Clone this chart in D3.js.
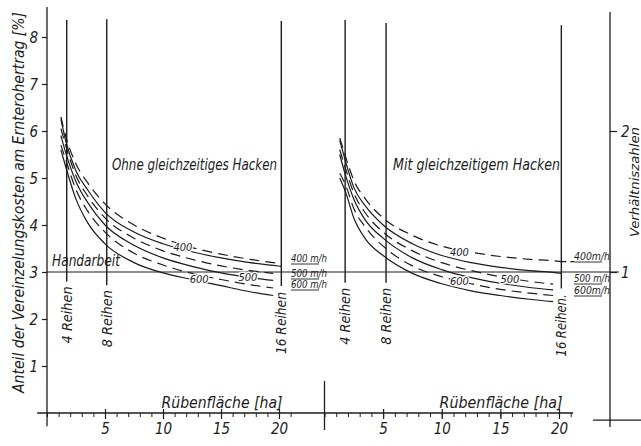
<!DOCTYPE html>
<html>
<head>
<meta charset="utf-8">
<script src="https://cdn.jsdelivr.net/npm/d3@7"></script>
<style>
  body { margin: 0; background: #fff; }
  svg text {
    font-family: "Liberation Sans Narrow", "DejaVu Sans Condensed", "DejaVu Sans", sans-serif;
    font-style: italic;
    fill: #1c1c1c;
  }
</style>
</head>
<body>
<div id="chart"></div>
<script>
/// Data

// x positions (ha) where the curves were read
const haLeft = [1.2, 1.6, 2.5, 3.5, 5, 7.5, 10, 12.5, 15, 17.5, 19.5, 20.2];
const haRight = [1.3, 1.8, 2.5, 3.5, 5, 7.5, 10, 12.5, 15, 17.5, 19.5, 20.2];

// Ohne gleichzeitiges Hacken  (d = dashed, s = solid)
const left400d = [6.3, 5.9, 5.3, 4.9, 4.45, 4.0, 3.72, 3.52, 3.38, 3.27, 3.2, 3.18];
const left400s = [6.25, 5.8, 5.15, 4.75, 4.27, 3.85, 3.6, 3.43, 3.3, 3.2, 3.14, 3.12];
const left500d = [6.05, 5.7, 5.05, 4.62, 4.15, 3.72, 3.45, 3.27, 3.13, 3.03, 2.97, null];
const left500s = [5.9, 5.55, 4.92, 4.48, 4.0, 3.57, 3.3, 3.12, 2.98, 2.88, 2.82, null];
const left600d = [5.7, 5.4, 4.75, 4.3, 3.85, 3.4, 3.15, 2.97, 2.84, 2.73, 2.66, null];
const left600s = [5.6, 5.25, 4.55, 4.05, 3.6, 3.2, 2.98, 2.84, 2.71, 2.58, 2.5, null];

// Mit gleichzeitigem Hacken
const right400d = [5.85, 5.45, 4.95, 4.55, 4.15, 3.78, 3.55, 3.42, 3.33, 3.27, 3.24, 3.22];
const right400s = [5.8, 5.35, 4.8, 4.4, 4.0, 3.6, 3.35, 3.2, 3.1, 3.03, 2.99, 2.97];
const right500d = [5.6, 5.2, 4.68, 4.25, 3.85, 3.45, 3.2, 3.03, 2.9, 2.8, 2.74, null];
const right500s = [5.5, 5.05, 4.55, 4.1, 3.72, 3.3, 3.05, 2.88, 2.76, 2.67, 2.62, null];
const right600d = [5.1, 4.85, 4.35, 3.95, 3.55, 3.13, 2.9, 2.75, 2.63, 2.55, 2.5, null];
const right600s = [5.0, 4.7, 4.15, 3.7, 3.35, 2.97, 2.75, 2.6, 2.5, 2.42, 2.37, null];

const handarbeit = 3; // %

// row-count lines (ha)
const reihenLeft = [1.7, 5.15, 20.2];
const reihenRight = [1.76, 5.25, 20.2];
const reihenNames = ["4 Reihen", "8 Reihen", "16 Reihen"];
const reihenNamesRight = ["4 Reihen", "8 Reihen", "16 Reihen."];

// inline speed labels [ha, %]
const speedLabels = ["400", "600", "500"];
const speedPosLeft = [[10.9, 3.45], [12.3, 2.77], [16.5, 2.81]];
const speedPosRight = [[10.7, 3.34], [10.7, 2.72], [15.0, 2.77]];
const endLabels = ["400 m/h", "500 m/h", "600 m/h"];
const endLabelsRight = ["400m/h", "500 m/h", "600m/h"];

const yTicks = [1, 2, 3, 4, 5, 6, 7, 8];
const yRightTicks = [1, 2];
const xMajor = [5, 10, 15, 20];
const xMinor = d3.range(0, 22);

/// Geometry
const width = 641, height = 446;
const ink = "#1c1c1c";

const y = d3.scaleLinear().domain([0, 8]).range([413, 37]);
const yR = d3.scaleLinear().domain([0, 8 / 3]).range([413, 37]);
const xL = d3.scaleLinear().domain([0, 20]).range([47, 279]);
const xR = d3.scaleLinear().domain([0, 20]).range([324.5, 559]);

const svg = d3.select("#chart").append("svg")
  .attr("width", width)
  .attr("height", height);

// axis baseline, runs under both panels
svg.append("line")
  .attr("x1", xL(-0.85)).attr("x2", xR(21.2))
  .attr("y1", y(0)).attr("y2", y(0))
  .attr("stroke", ink).attr("stroke-width", 1.3);

// left y axis
svg.append("line")
  .attr("x1", xL(0)).attr("x2", xL(0))
  .attr("y1", y(8.64)).attr("y2", y(-0.28))
  .attr("stroke", ink).attr("stroke-width", 1.3);

const yAxis = svg.append("g")
  .attr("transform", "translate(" + xL(0) + ",0)")
  .call(d3.axisLeft(y).tickValues(yTicks).tickSize(5).tickFormat(d3.format("d")));
yAxis.select(".domain").remove();
yAxis.selectAll("line").attr("stroke", ink).attr("stroke-width", 1.2);
yAxis.selectAll("text")
  .attr("font-size", 15).attr("x", -9).attr("dy", "0.36em");

// small separator at the origin of the right panel
svg.append("line")
  .attr("x1", xR(0)).attr("x2", xR(0))
  .attr("y1", y(0.68)).attr("y2", y(-0.36))
  .attr("stroke", ink).attr("stroke-width", 1.3);

function xTicks(x) {
  const minor = svg.append("g")
    .attr("transform", "translate(0," + y(0) + ")")
    .call(d3.axisBottom(x).tickValues(xMinor).tickSize(4).tickFormat(""));
  minor.select(".domain").remove();
  minor.selectAll("line").attr("stroke", ink).attr("stroke-width", 1);

  const major = svg.append("g")
    .attr("transform", "translate(0," + y(0) + ")")
    .call(d3.axisBottom(x).tickValues(xMajor).tickSize(6).tickFormat(d3.format("d")));
  major.select(".domain").remove();
  major.selectAll("line").attr("y1", -4).attr("stroke", ink).attr("stroke-width", 1.2);
  major.selectAll("text").attr("font-size", 15).attr("y", 10).attr("dy", "0.75em");
}
xTicks(xL);
xTicks(xR);

// right axis (Verhältniszahlen)
svg.append("line")
  .attr("x1", 610).attr("x2", 610)
  .attr("y1", y(8.53)).attr("y2", y(-0.3))
  .attr("stroke", ink).attr("stroke-width", 1.3);
svg.append("line")
  .attr("x1", 593).attr("x2", width)
  .attr("y1", y(-0.15)).attr("y2", y(-0.15))
  .attr("stroke", ink).attr("stroke-width", 1.3);
const rAxis = svg.append("g")
  .attr("transform", "translate(610,0)")
  .call(d3.axisRight(yR).tickValues(yRightTicks).tickSize(7).tickFormat(d3.format("d")));
rAxis.select(".domain").remove();
rAxis.selectAll("line").attr("stroke", ink).attr("stroke-width", 1.2);
rAxis.selectAll("text").attr("font-size", 15).attr("x", 11).attr("dy", "0.36em");

// Handarbeit line
svg.append("line")
  .attr("x1", xL(0)).attr("x2", 619)
  .attr("y1", y(handarbeit)).attr("y2", y(handarbeit))
  .attr("stroke", ink).attr("stroke-width", 1.2);
svg.append("text")
  .attr("x", 52).attr("y", y(handarbeit) - 6)
  .attr("font-size", 15)
  .attr("textLength", 68).attr("lengthAdjust", "spacingAndGlyphs")
  .text("Handarbeit");

function panel(x, ha, series, reihen, names, reihenBottom, reihenTop, labelPos, ends, endX, endY, title, titleX, titleW, axisW) {
  // row lines
  reihen.forEach(function (r, i) {
    svg.append("line")
      .attr("x1", x(r)).attr("x2", x(r))
      .attr("y1", y(reihenTop[i])).attr("y2", y(reihenBottom[i]))
      .attr("stroke", ink).attr("stroke-width", 1.4);
    svg.append("text")
      .attr("transform", "translate(" + (x(r) + 5) + "," + (y(reihenBottom[i]) + 62 + (i == 2 ? 6 : 0)) + ") rotate(-90)")
      .attr("font-size", 14)
      .attr("textLength", i == 2 ? 62 : 57).attr("lengthAdjust", "spacingAndGlyphs")
      .text(names[i]);
  });

  const line = d3.line()
    .defined(function (d) { return d[1] != null; })
    .x(function (d) { return x(d[0]); })
    .y(function (d) { return y(d[1]); })
    .curve(d3.curveMonotoneX);

  series.forEach(function (s) {
    svg.append("path")
      .datum(ha.map(function (h, i) { return [h, s.v[i]]; }))
      .attr("fill", "none")
      .attr("stroke", ink)
      .attr("stroke-width", 1.2)
      .attr("stroke-dasharray", s.dash ? "10,6" : null)
      .attr("d", line);
  });

  speedLabels.forEach(function (t, i) {
    svg.append("text")
      .attr("x", x(labelPos[i][0])).attr("y", y(labelPos[i][1]))
      .attr("font-size", 11)
      .attr("stroke", "#fff").attr("stroke-width", 2.5).attr("paint-order", "stroke")
      .text(t);
  });

  ends.forEach(function (t, i) {
    svg.append("text")
      .attr("x", endX).attr("y", endY[i])
      .attr("font-size", 10)
      .attr("textLength", 36).attr("lengthAdjust", "spacingAndGlyphs")
      .text(t);
    svg.append("line")
      .attr("x1", endX).attr("x2", endX + 28)
      .attr("y1", endY[i] + 2).attr("y2", endY[i] + 2)
      .attr("stroke", ink).attr("stroke-width", 0.9);
  });

  svg.append("text")
    .attr("x", titleX).attr("y", 170)
    .attr("font-size", 15)
    .attr("textLength", titleW).attr("lengthAdjust", "spacingAndGlyphs")
    .text(title);

  svg.append("text")
    .attr("x", x(20.3)).attr("y", y(0) - 5)
    .attr("text-anchor", "end")
    .attr("font-size", 15)
    .attr("textLength", axisW).attr("lengthAdjust", "spacingAndGlyphs")
    .text("Rübenfläche [ha]");
}

panel(xL, haLeft,
  [{ v: left400d, dash: true }, { v: left400s }, { v: left500d, dash: true },
   { v: left500s }, { v: left600d, dash: true }, { v: left600s }],
  reihenLeft, reihenNames, [2.8, 2.72, 2.7], [8.36, 8.38, 8.34],
  speedPosLeft, endLabels, 291, [262, 277, 288],
  "Ohne gleichzeitiges Hacken", 112, 165, 121);

panel(xR, haRight,
  [{ v: right400d, dash: true }, { v: right400s }, { v: right500d, dash: true },
   { v: right500s }, { v: right600d, dash: true }, { v: right600s }],
  reihenRight, reihenNamesRight, [2.77, 2.77, 2.65], [8.36, 8.3, 8.25],
  speedPosRight, endLabelsRight, 574, [260, 282, 294],
  "Mit gleichzeitigem Hacken", 393, 167, 123);

// dashed leader to the right end label
svg.append("line")
  .attr("x1", xR(20.2)).attr("x2", 574)
  .attr("y1", y(3.22)).attr("y2", y(3.22))
  .attr("stroke", ink).attr("stroke-width", 1.1).attr("stroke-dasharray", "5,4");

// axis titles
svg.append("text")
  .attr("transform", "translate(24,393) rotate(-90)")
  .attr("font-size", 15)
  .attr("textLength", 381).attr("lengthAdjust", "spacingAndGlyphs")
  .text("Anteil der Vereinzelungskosten am Ernterohertrag [%]");

svg.append("text")
  .attr("transform", "translate(639,237) rotate(-90)")
  .attr("font-size", 12)
  .attr("textLength", 110).attr("lengthAdjust", "spacingAndGlyphs")
  .text("Verhältniszahlen");
</script>
</body>
</html>
